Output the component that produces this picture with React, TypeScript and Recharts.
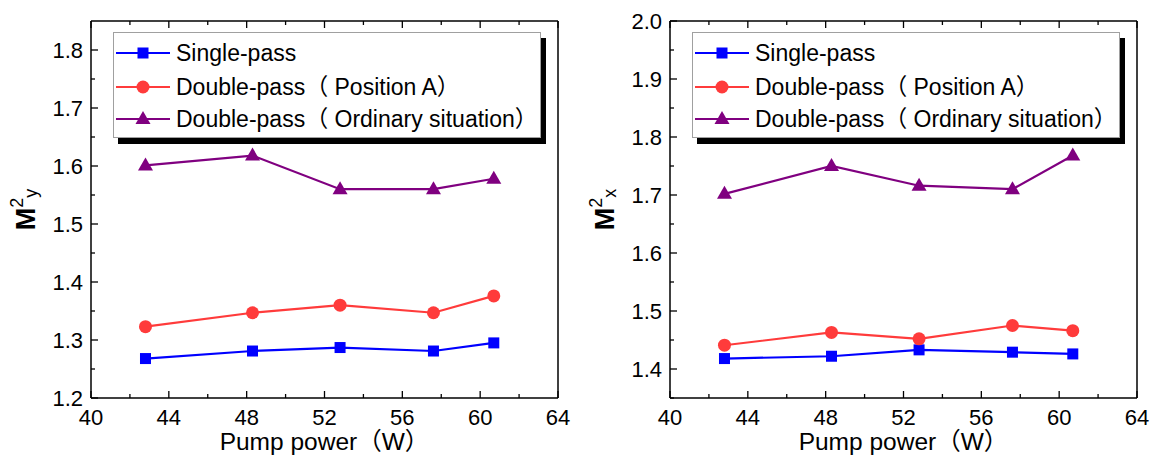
import { Legend, Line, LineChart, XAxis, YAxis } from "recharts"

// pump power (W)
const pumpPower = [42.8, 48.3, 52.8, 57.6, 60.7]

// M2y (left panel)
const mySingle = [1.268, 1.281, 1.287, 1.281, 1.295]
const myPositionA = [1.323, 1.347, 1.36, 1.347, 1.376]
const myOrdinary = [1.601, 1.618, 1.56, 1.56, 1.578]

// M2x (right panel)
const mxSingle = [1.418, 1.422, 1.433, 1.429, 1.426]
const mxPositionA = [1.441, 1.463, 1.452, 1.475, 1.466]
const mxOrdinary = [1.702, 1.75, 1.716, 1.71, 1.768]

const xTicks = [40, 42, 44, 46, 48, 50, 52, 54, 56, 58, 60, 62, 64]
const xMajor = [40, 44, 48, 52, 56, 60, 64]
const yTicksLeft = [1.2, 1.25, 1.3, 1.35, 1.4, 1.45, 1.5, 1.55, 1.6, 1.65, 1.7, 1.75, 1.8]
const yTicksRight = [1.35, 1.4, 1.45, 1.5, 1.55, 1.6, 1.65, 1.7, 1.75, 1.8, 1.85, 1.9, 1.95, 2.0]

const seriesNames = ['Single-pass', 'Double-pass（ Position A）', 'Double-pass（ Ordinary situation）']
const COLORS = ['#0000ff', '#ff3b3b', '#800080']

const FONT = "'Liberation Sans', Arial, 'Noto Sans CJK SC', sans-serif"
const W = 579
const H = 460

const isMajorY = (v: number) => Math.abs(v * 10 - Math.round(v * 10)) < 1e-6

const Square = ({ cx, cy, color, s = 11 }: any) => (
  <rect x={cx - s / 2} y={cy - s / 2} width={s} height={s} fill={color} />
)
const Circle = ({ cx, cy, color }: any) => <circle cx={cx} cy={cy} r={6.5} fill={color} />
const Triangle = ({ cx, cy, color }: any) => (
  <polygon points={`${cx},${cy - 8} ${cx + 7.5},${cy + 5} ${cx - 7.5},${cy + 5}`} fill={color} />
)
const MARKERS = [Square, Circle, Triangle]

const makeDot = (idx: number) => (props: any) => {
  const M = MARKERS[idx]
  if (props.cx == null || props.cy == null) return <g key={`dot-${idx}-${props.index}`} />
  return (
    <g key={`dot-${idx}-${props.index}`}>
      <M cx={props.cx} cy={props.cy} color={COLORS[idx]} />
    </g>
  )
}

const xTick = (side: 'bottom' | 'top') => (props: any) => {
  const { x, y, payload } = props
  const major = xMajor.includes(payload.value)
  const len = major ? 7 : 4
  const dir = side === 'bottom' ? -1 : 1
  return (
    <g>
      <line x1={x} x2={x} y1={y} y2={y + dir * len} stroke='#000' strokeWidth={1.3} />
      {side === 'bottom' && major && (
        <text x={x} y={y + 27} textAnchor='middle' fontSize={22} fontFamily={FONT} fill='#000'>
          {payload.value}
        </text>
      )}
    </g>
  )
}

const yTick = (side: 'left' | 'right') => (props: any) => {
  const { x, y, payload } = props
  const major = isMajorY(payload.value)
  const len = major ? 7 : 4
  const dir = side === 'left' ? 1 : -1
  return (
    <g>
      <line x1={x} x2={x + dir * len} y1={y} y2={y} stroke='#000' strokeWidth={1.3} />
      {side === 'left' && major && (
        <text x={x - 8} y={y + 8} textAnchor='end' fontSize={22} fontFamily={FONT} fill='#000'>
          {payload.value.toFixed(1)}
        </text>
      )}
    </g>
  )
}

const LegendBox = () => (
  <div
    style={{
      width: 426,
      height: 104,
      border: '1px solid #a0a0a0',
      background: '#fff',
      boxShadow: '5px 6px 0 #000'
    }}
  >
    <svg width={426} height={104}>
      {seriesNames.map((name, i) => {
        const cy = [20, 54, 86][i]
        const M = MARKERS[i]
        return (
          <g key={name}>
            <line x1={2} x2={56} y1={cy} y2={cy} stroke={COLORS[i]} strokeWidth={2.2} />
            <M cx={29} cy={cy} color={COLORS[i]} />
            <text x={62} y={cy + 8} fontSize={23} fontFamily={FONT} fill='#000'>
              {name}
            </text>
          </g>
        )
      })}
    </svg>
  </div>
)

const Panel = ({ single, posA, ordinary, yDomain, yTicks, sub }: any) => {
  const data = pumpPower.map((x, i) => ({ x, s: single[i], a: posA[i], o: ordinary[i] }))
  const axisLine = { stroke: '#000', strokeWidth: 1.5 }
  return (
    <LineChart width={W} height={H} data={data} margin={{ top: 20, right: 20, bottom: 8, left: 8 }}>
      <XAxis
        xAxisId='b'
        type='number'
        dataKey='x'
        domain={[40, 64]}
        ticks={xTicks}
        interval={0}
        tickSize={0}
        tickMargin={0}
        tickLine={false}
        axisLine={axisLine}
        tick={xTick('bottom')}
        height={54}
        label={{
          content: (p: any) => {
            const vb = p.viewBox
            return (
              <text x={vb.x + vb.width / 2} y={vb.y + 52} textAnchor='middle' fontSize={24.5} fontFamily={FONT} fill='#000'>
                Pump power（W）
              </text>
            )
          }
        }}
      />
      <XAxis
        xAxisId='t'
        orientation='top'
        type='number'
        dataKey='x'
        domain={[40, 64]}
        ticks={xTicks}
        interval={0}
        tickSize={0}
        tickMargin={0}
        tickLine={false}
        axisLine={axisLine}
        tick={xTick('top')}
        height={1}
      />
      <YAxis
        yAxisId='l'
        type='number'
        domain={yDomain}
        ticks={yTicks}
        interval={0}
        tickSize={0}
        tickMargin={0}
        tickLine={false}
        axisLine={axisLine}
        tick={yTick('left')}
        width={83}
        label={{
          content: (p: any) => {
            const vb = p.viewBox
            const bx = vb.x + 27
            const cy = vb.y + vb.height / 2
            return (
              <text transform={`rotate(-90, ${bx}, ${cy})`} x={bx} y={cy} textAnchor='middle' fontSize={27} fontWeight='bold' fontFamily={FONT} fill='#000'>
                M
                <tspan fontSize={18} fontWeight='normal' dy={-12}>2</tspan>
                <tspan fontSize={18} fontWeight='normal' dy={14}>{sub}</tspan>
              </text>
            )
          }
        }}
      />
      <YAxis
        yAxisId='r'
        orientation='right'
        type='number'
        domain={yDomain}
        ticks={yTicks}
        interval={0}
        tickSize={0}
        tickMargin={0}
        tickLine={false}
        axisLine={axisLine}
        tick={yTick('right')}
        width={1}
      />
      <Legend
        layout='vertical'
        align='center'
        verticalAlign='middle'
        content={() => <LegendBox />}
        wrapperStyle={{ left: 113, top: 32, width: 428, height: 106 }}
      />
      {['s', 'a', 'o'].map((k, i) => (
        <Line
          key={k}
          xAxisId='b'
          yAxisId='l'
          dataKey={k}
          name={seriesNames[i]}
          stroke={COLORS[i]}
          strokeWidth={2.2}
          dot={makeDot(i)}
          activeDot={false}
          isAnimationActive={false}
        />
      ))}
    </LineChart>
  )
}

const App = () => (
  <div style={{ position: 'absolute', left: 0, top: 0, width: 1158, height: 460, background: '#fff', display: 'flex' }}>
    <Panel single={mySingle} posA={myPositionA} ordinary={myOrdinary} yDomain={[1.2, 1.85]} yTicks={yTicksLeft} sub='y' />
    <Panel single={mxSingle} posA={mxPositionA} ordinary={mxOrdinary} yDomain={[1.35, 2.0]} yTicks={yTicksRight} sub='x' />
  </div>
)

export default App
